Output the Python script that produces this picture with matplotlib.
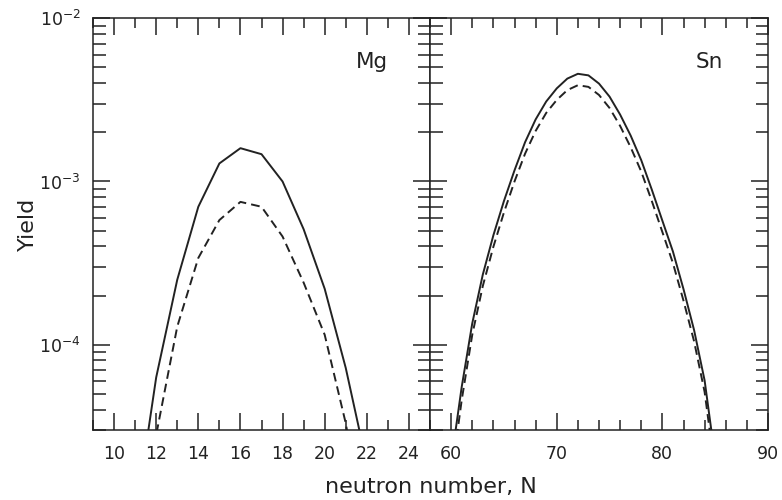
import numpy as np
import matplotlib
matplotlib.use("Agg")
import matplotlib.pyplot as plt
from matplotlib.ticker import LogLocator, NullFormatter, MultipleLocator

# Isotope yields versus neutron number
mg_n = [11, 12, 13, 14, 15, 16, 17, 18, 19, 20, 21, 22]
mg_solid = [8.5e-6, 6.3e-5, 2.5e-4, 7.0e-4, 1.29e-3, 1.6e-3, 1.47e-3,
            1.0e-3, 5.1e-4, 2.2e-4, 7.2e-5, 1.85e-5]
mg_dashed = [5.0e-6, 2.8e-5, 1.29e-4, 3.4e-4, 5.8e-4, 7.5e-4, 7.0e-4,
             4.6e-4, 2.4e-4, 1.15e-4, 3.3e-5, 6.0e-6]

sn_n = list(range(60, 86))
sn_solid = [1.91e-5, 5.50e-5, 1.35e-4, 2.69e-4, 4.68e-4, 7.59e-4, 1.17e-3,
            1.74e-3, 2.40e-3, 3.09e-3, 3.72e-3, 4.27e-3, 4.57e-3, 4.47e-3,
            3.98e-3, 3.31e-3, 2.57e-3, 1.91e-3, 1.35e-3, 8.91e-4, 5.75e-4,
            3.72e-4, 2.19e-4, 1.23e-4, 6.03e-5, 2.00e-5]
sn_dashed = [1.51e-5, 4.57e-5, 1.15e-4, 2.29e-4, 3.98e-4, 6.46e-4, 1.00e-3,
             1.48e-3, 2.04e-3, 2.63e-3, 3.16e-3, 3.63e-3, 3.89e-3, 3.80e-3,
             3.39e-3, 2.82e-3, 2.19e-3, 1.62e-3, 1.15e-3, 7.59e-4, 4.90e-4,
             3.16e-4, 1.86e-4, 1.05e-4, 5.13e-5, 1.66e-5]

mg_ticks = [10, 12, 14, 16, 18, 20, 22, 24]
sn_ticks = [60, 70, 80, 90]

ink = "#222222"
plt.rcParams["font.family"] = ["DejaVu Sans"]
plt.rcParams["mathtext.fontset"] = "dejavusans"

fig = plt.figure(figsize=(7.82, 5.0), dpi=100)
W, H = 782.0, 500.0
bottom = 1 - 430 / H
height = (430 - 18.3) / H
ax1 = fig.add_axes([93 / W, bottom, 337 / W, height])
ax2 = fig.add_axes([430 / W, bottom, 338 / W, height], sharey=ax1)

dash = (4.5, 2.6)
ax1.plot(mg_n, mg_solid, color=ink, lw=1.4)
ax1.plot(mg_n, mg_dashed, color=ink, lw=1.4, dashes=dash)
ax2.plot(sn_n, sn_solid, color=ink, lw=1.4)
ax2.plot(sn_n, sn_dashed, color=ink, lw=1.4, dashes=dash)

ax1.set_yscale("log")
ax1.set_ylim(3e-5, 1e-2)
ax1.set_xlim(9, 25)
ax2.set_xlim(58, 90)

ax1.set_xticks(mg_ticks)
ax1.xaxis.set_minor_locator(MultipleLocator(1))
ax2.set_xticks(sn_ticks)
ax2.xaxis.set_minor_locator(MultipleLocator(2))

for ax in (ax1, ax2):
    ax.yaxis.set_major_locator(LogLocator(base=10))
    ax.yaxis.set_minor_locator(LogLocator(base=10, subs=np.arange(2, 10)))
    ax.yaxis.set_minor_formatter(NullFormatter())
    for s in ax.spines.values():
        s.set_linewidth(1.1)
        s.set_color(ink)
    ax.tick_params(which="both", direction="in", top=True, right=True,
                   color=ink, width=1.1, labelcolor=ink, labelsize=12.5)
    ax.tick_params(axis="x", which="major", length=12.5, pad=11)
    ax.tick_params(axis="x", which="minor", length=7.5)
    ax.tick_params(axis="y", which="major", length=12.5, pad=9)
    ax.tick_params(axis="y", which="minor", length=9)

ax2.tick_params(axis="y", which="both", labelleft=False)

ax1.set_ylabel("Yield", fontsize=16, color=ink)
ax1.yaxis.set_label_coords((38 - 93) / 337, 0.5)
fig.text((93 + 768) / 2 / W, 1 - 493 / H, "neutron number, N",
         ha="center", va="baseline", fontsize=16, color=ink)

ax1.text(0.875, 0.894, "Mg", transform=ax1.transAxes, ha="right",
         va="center", fontsize=15.5, color=ink)
ax2.text(0.867, 0.894, "Sn", transform=ax2.transAxes, ha="right",
         va="center", fontsize=15.5, color=ink)

fig.savefig("out.png", dpi=100)
